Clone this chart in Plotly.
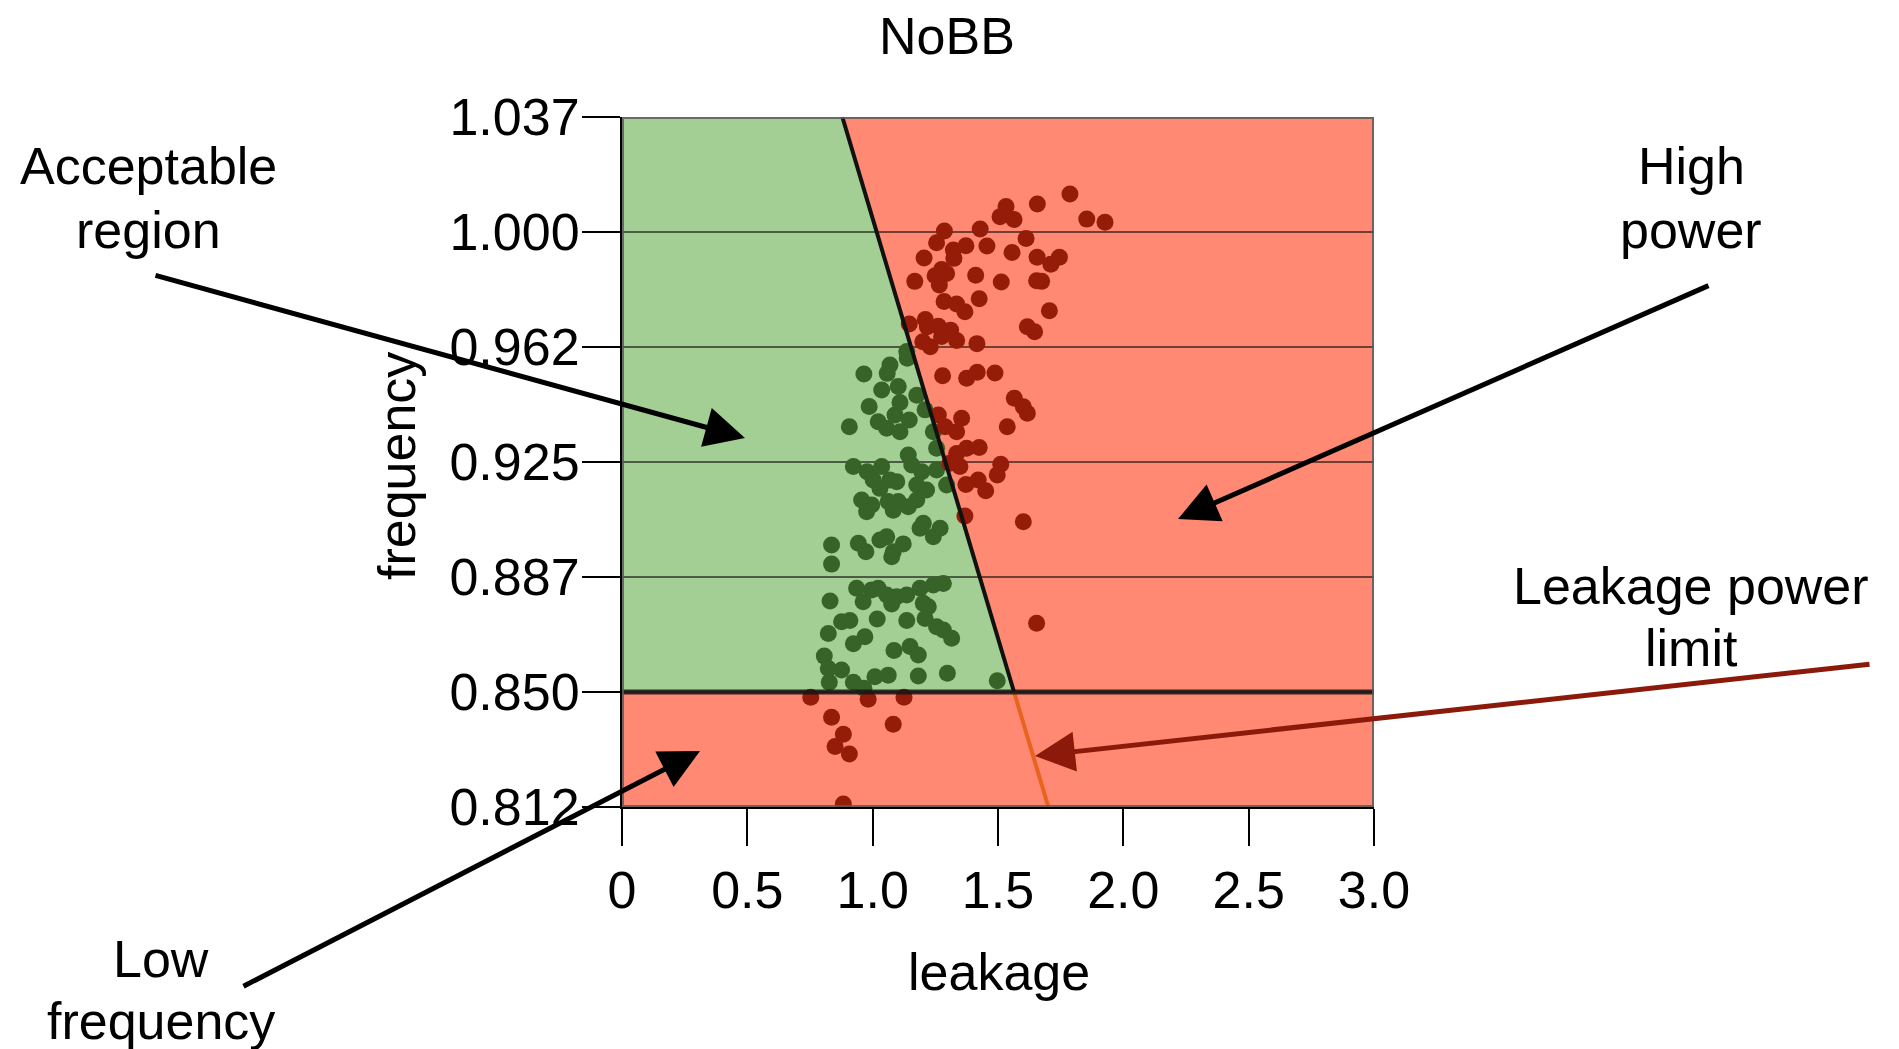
import plotly.graph_objects as go

# ---------------- data ----------------
# chips inside the acceptable region (leakage, frequency)
ok_leakage = [
    1.136, 1.138, 1.069, 0.965, 1.058, 1.102, 1.036, 1.176, 0.986, 1.109, 1.209,
    0.907, 1.022, 1.056, 1.109, 1.089, 1.146, 1.242, 1.255, 1.142, 0.923, 0.978,
    1.036, 1.156, 1.255, 1.196, 1.002, 1.069, 1.096, 1.029, 1.176, 1.215, 1.295,
    0.956, 0.996, 0.976, 1.062, 1.102, 1.082, 1.142, 1.176, 1.202, 1.189, 1.269,
    1.242, 0.836, 0.836, 0.943, 0.973, 1.029, 1.056, 1.122, 1.082, 1.076, 0.936,
    0.996, 1.022, 1.056, 1.096, 1.136, 1.076, 0.962, 1.189, 1.242, 1.282, 0.830,
    1.202, 1.222, 0.876, 0.909, 1.018, 1.136, 1.209, 1.255, 1.282, 0.823, 0.969,
    1.315, 0.923, 1.085, 1.149, 1.182, 0.807, 0.823, 0.876, 0.827, 0.923, 0.965,
    1.009, 1.062, 1.182, 1.298, 1.497,
]
ok_frequency = [
    0.9610, 0.9588, 0.9566, 0.9537, 0.9539, 0.9496, 0.9485, 0.9468, 0.9431, 0.9444, 0.9420,
    0.9365, 0.9381, 0.9360, 0.9349, 0.9403, 0.9387, 0.9349, 0.9295, 0.9273, 0.9235, 0.9218,
    0.9235, 0.9240, 0.9224, 0.9218, 0.9191, 0.9191, 0.9186, 0.9164, 0.9175, 0.9159, 0.9175,
    0.9126, 0.9110, 0.9088, 0.9121, 0.9121, 0.9093, 0.9104, 0.9126, 0.9050, 0.9034, 0.9034,
    0.9006, 0.8979, 0.8917, 0.8985, 0.8957, 0.8996, 0.9006, 0.8983, 0.8957, 0.8941, 0.8838,
    0.8833, 0.8838, 0.8816, 0.8811, 0.8816, 0.8787, 0.8794, 0.8838, 0.8849, 0.8854, 0.8797,
    0.8789, 0.8778, 0.8729, 0.8733, 0.8738, 0.8733, 0.8740, 0.8713, 0.8702, 0.8691, 0.8680,
    0.8675, 0.8657, 0.8635, 0.8648, 0.8621, 0.8617, 0.8577, 0.8572, 0.8532, 0.8532, 0.8512,
    0.8550, 0.8555, 0.8552, 0.8561, 0.8537,
]

# chips rejected (too leaky or too slow)
bad_leakage = [
    1.787, 1.657, 1.532, 1.508, 1.564, 1.854, 1.927, 1.429, 1.286, 1.612, 1.255,
    1.372, 1.456, 1.322, 1.556, 1.324, 1.205, 1.656, 1.745, 1.711, 1.275, 1.249,
    1.295, 1.411, 1.168, 1.513, 1.654, 1.674, 1.266, 1.425, 1.285, 1.335, 1.368,
    1.705, 1.146, 1.210, 1.218, 1.262, 1.311, 1.617, 1.646, 1.275, 1.335, 1.200,
    1.230, 1.416, 1.279, 1.375, 1.417, 1.488, 1.565, 1.601, 1.617, 1.262, 1.355,
    1.289, 1.335, 1.537, 1.375, 1.425, 1.335, 1.308, 1.348, 1.511, 1.497, 1.372,
    1.421, 1.451, 1.368, 1.601, 1.654, 0.753, 0.982, 1.125, 0.836, 1.082, 0.883,
    0.850, 0.907, 0.883,
]
bad_frequency = [
    1.0124, 1.0091, 1.0083, 1.0050, 1.0041, 1.0042, 1.0032, 1.0010, 1.0003, 0.9979, 0.9965,
    0.9955, 0.9954, 0.9941, 0.9933, 0.9914, 0.9915, 0.9918, 0.9918, 0.9895, 0.9878, 0.9857,
    0.9865, 0.9859, 0.9839, 0.9837, 0.9841, 0.9839, 0.9827, 0.9782, 0.9773, 0.9765, 0.9740,
    0.9743, 0.9700, 0.9715, 0.9691, 0.9693, 0.9680, 0.9691, 0.9675, 0.9659, 0.9646, 0.9642,
    0.9626, 0.9636, 0.9531, 0.9523, 0.9543, 0.9540, 0.9458, 0.9430, 0.9409, 0.9403, 0.9393,
    0.9365, 0.9349, 0.9365, 0.9295, 0.9297, 0.9278, 0.9246, 0.9235, 0.9243, 0.9208, 0.9177,
    0.9191, 0.9156, 0.9074, 0.9055, 0.8724, 0.8483, 0.8476, 0.8483, 0.8418, 0.8395, 0.8362,
    0.8322, 0.8298, 0.8135,
]

# axes
x_ticks = [0, 0.5, 1.0, 1.5, 2.0, 2.5, 3.0]
x_tick_text = ["0", "0.5", "1.0", "1.5", "2.0", "2.5", "3.0"]
y_ticks = [0.8125, 0.85, 0.8875, 0.925, 0.9625, 1.0, 1.0375]
y_tick_text = ["0.812", "0.850", "0.887", "0.925", "0.962", "1.000", "1.037"]

# region limits
LEAK_MAX = 3.0
FREQ_LO, FREQ_HI = 0.8125, 1.0375
FREQ_MIN = 0.85            # low-frequency cutoff
LIMIT_X_TOP = 0.879        # leakage power limit at top of plot
LIMIT_X_BOTTOM = 1.701     # leakage power limit at bottom of plot


def limit_at(freq):
    t = (FREQ_HI - freq) / (FREQ_HI - FREQ_LO)
    return LIMIT_X_TOP + t * (LIMIT_X_BOTTOM - LIMIT_X_TOP)


limit_at_min = limit_at(FREQ_MIN)

# ---------------- styling ----------------
FONT = "Liberation Sans, Arial, Helvetica, sans-serif"
GREEN_FILL = "#A3CF94"
RED_FILL = "#FF8973"
GREEN_DOT = "#386328"
RED_DOT = "#961C0A"
W, H = 1899, 1049
M_L, M_R, M_T, M_B = 622, 525, 117, 242
PW, PH = W - M_L - M_R, H - M_T - M_B


def paper(px, py):
    return (px - M_L) / PW, 1 - (py - M_T) / PH


fig = go.Figure()

fig.add_trace(go.Scatter(
    x=ok_leakage, y=ok_frequency, mode="markers",
    marker=dict(size=17, color=GREEN_DOT, line=dict(width=0)),
    showlegend=False, hoverinfo="skip",
))
fig.add_trace(go.Scatter(
    x=bad_leakage, y=bad_frequency, mode="markers",
    marker=dict(size=17, color=RED_DOT, line=dict(width=0)),
    showlegend=False, hoverinfo="skip",
))

shapes = []
# acceptable region
shapes.append(dict(
    type="path", xref="x", yref="y", layer="below",
    path=f"M 0,{FREQ_MIN} L 0,{FREQ_HI} L {LIMIT_X_TOP},{FREQ_HI} L {limit_at_min},{FREQ_MIN} Z",
    fillcolor=GREEN_FILL, line=dict(width=0),
))
# high power region
shapes.append(dict(
    type="path", xref="x", yref="y", layer="below",
    path=f"M {LIMIT_X_TOP},{FREQ_HI} L {LEAK_MAX},{FREQ_HI} L {LEAK_MAX},{FREQ_MIN} L {limit_at_min},{FREQ_MIN} Z",
    fillcolor=RED_FILL, line=dict(width=0),
))
# low frequency band
shapes.append(dict(
    type="rect", xref="x", yref="y", layer="below",
    x0=0, x1=LEAK_MAX, y0=FREQ_LO, y1=FREQ_MIN,
    fillcolor=RED_FILL, line=dict(width=0),
))
# leakage power limit line
shapes.append(dict(
    type="line", xref="x", yref="y", layer="above",
    x0=LIMIT_X_TOP, y0=FREQ_HI, x1=limit_at_min, y1=FREQ_MIN,
    line=dict(color="#111111", width=4),
))
shapes.append(dict(
    type="line", xref="x", yref="y", layer="above",
    x0=limit_at_min, y0=FREQ_MIN, x1=LIMIT_X_BOTTOM, y1=FREQ_LO,
    line=dict(color="#E8641E", width=4),
))
# frequency cutoff line
shapes.append(dict(
    type="line", xref="x", yref="y", layer="above",
    x0=0, y0=FREQ_MIN, x1=LEAK_MAX, y1=FREQ_MIN,
    line=dict(color="rgba(20,20,20,0.85)", width=5),
))
# frame
shapes.append(dict(
    type="rect", xref="x", yref="y", layer="above",
    x0=0, x1=LEAK_MAX, y0=FREQ_LO, y1=FREQ_HI,
    fillcolor="rgba(0,0,0,0)", line=dict(color="rgba(90,90,90,0.85)", width=4),
))

annotations = []


def label(text, px, py, size=52, angle=0):
    x, y = paper(px, py)
    annotations.append(dict(
        text=text, x=x, y=y, xref="paper", yref="paper",
        xanchor="center", yanchor="middle", showarrow=False,
        textangle=angle, font=dict(family=FONT, size=size, color="black"),
    ))


def arrow(head, tail, color="black"):
    x, y = paper(*head)
    annotations.append(dict(
        text="", x=x, y=y, xref="paper", yref="paper",
        ax=tail[0] - head[0], ay=tail[1] - head[1],
        showarrow=True, arrowhead=2, arrowsize=1.6, arrowwidth=5,
        arrowcolor=color, standoff=0, startstandoff=0,
    ))


label("NoBB", 947, 36)
label("leakage", 999, 972)
label("frequency", 397, 466, angle=-90)
label("Acceptable", 149, 166)
label("region", 149, 230)
label("High", 1691, 166)
label("power", 1691, 230)
label("Leakage power", 1691, 586)
label("limit", 1691, 648)
label("Low", 161, 959)
label("frequency", 161, 1021)

arrow((745, 438), (154, 275))
arrow((1178, 519), (1710, 285))
arrow((1035, 756), (1871, 664), color="#8B1A0A")
arrow((700, 751), (242, 987))

fig.update_layout(
    width=W, height=H,
    margin=dict(l=M_L, r=M_R, t=M_T, b=M_B),
    paper_bgcolor="white", plot_bgcolor="white",
    shapes=shapes, annotations=annotations,
    font=dict(family=FONT, size=52, color="black"),
)
fig.update_xaxes(
    range=[0, LEAK_MAX], tickvals=x_ticks, ticktext=x_tick_text,
    showgrid=False, zeroline=False,
    showline=True, linecolor="black", linewidth=2,
    ticks="outside", ticklen=37, tickwidth=2, tickcolor="black",
    tickfont=dict(family=FONT, size=52, color="black"),
)
fig.update_yaxes(
    range=[FREQ_LO, FREQ_HI], tickvals=y_ticks, ticktext=y_tick_text,
    showgrid=True, gridcolor="rgba(0,0,0,0.55)", gridwidth=2, zeroline=False,
    showline=True, linecolor="black", linewidth=2,
    ticks="outside", ticklen=38, tickwidth=2, tickcolor="black",
    ticklabelstandoff=-8,
    tickfont=dict(family=FONT, size=52, color="black"),
)

fig.write_html("out.html")
